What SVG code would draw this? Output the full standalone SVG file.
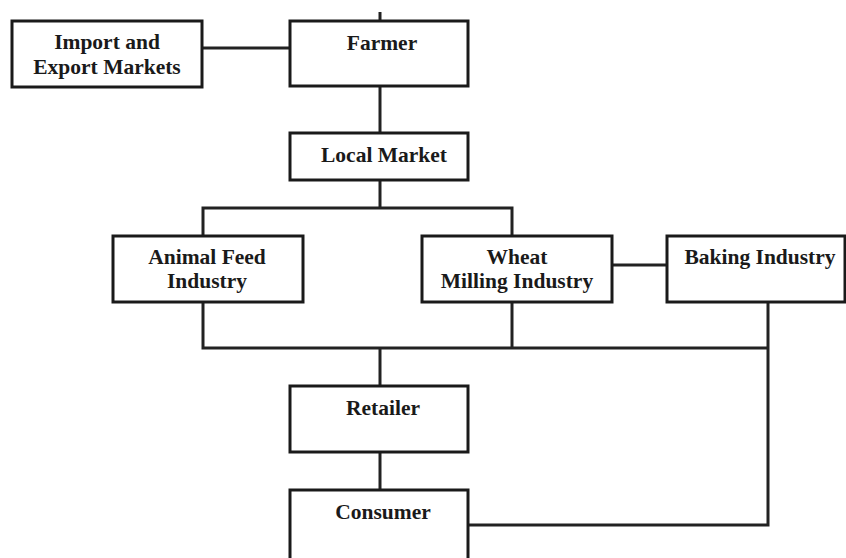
<svg xmlns="http://www.w3.org/2000/svg" width="846" height="558" viewBox="0 0 846 558">
<style>
.box{fill:#fff;stroke:#1a1a1a;stroke-width:3}
.t{font-family:"Liberation Serif","Times New Roman",serif;font-weight:bold;font-size:21.5px;fill:#1a1a1a;text-anchor:middle}
.c{fill:none;stroke:#222;stroke-width:3}
</style>
<rect width="846" height="558" fill="#fff"/>
<g id="connectors">
<path class="c" d="M380 12 V21"/>
<path class="c" d="M202 48 H290"/>
<path class="c" d="M380 86 V133"/>
<path class="c" d="M380 180 V208"/>
<path class="c" d="M203 236 V208 H512 V236"/>
<path class="c" d="M612 265 H667"/>
<path class="c" d="M203 302 V348 H768"/>
<path class="c" d="M512 302 V348"/>
<path class="c" d="M768 302 V525 H468"/>
<path class="c" d="M380 348 V386"/>
<path class="c" d="M380 452 V490"/>
</g>
<g id="import"><rect class="box" x="12" y="21" width="190" height="66"/><text class="t" x="107" y="49">Import and</text><text class="t" x="107" y="74">Export Markets</text></g>
<g id="farmer"><rect class="box" x="290" y="21" width="178" height="65"/><text class="t" x="382" y="50">Farmer</text></g>
<g id="local"><rect class="box" x="290" y="133" width="178" height="47"/><text class="t" x="384" y="162">Local Market</text></g>
<g id="animal"><rect class="box" x="113" y="236" width="190" height="66"/><text class="t" x="207" y="264">Animal Feed</text><text class="t" x="207" y="288">Industry</text></g>
<g id="wheat"><rect class="box" x="422" y="236" width="190" height="66"/><text class="t" x="517" y="264">Wheat</text><text class="t" x="517" y="288">Milling Industry</text></g>
<g id="baking"><rect class="box" x="667" y="236" width="178" height="66"/><text class="t" x="760" y="264">Baking Industry</text></g>
<g id="retailer"><rect class="box" x="290" y="386" width="178" height="66"/><text class="t" x="383" y="415">Retailer</text></g>
<g id="consumer"><rect class="box" x="290" y="490" width="178" height="80"/><text class="t" x="383" y="519">Consumer</text></g>
</svg>
